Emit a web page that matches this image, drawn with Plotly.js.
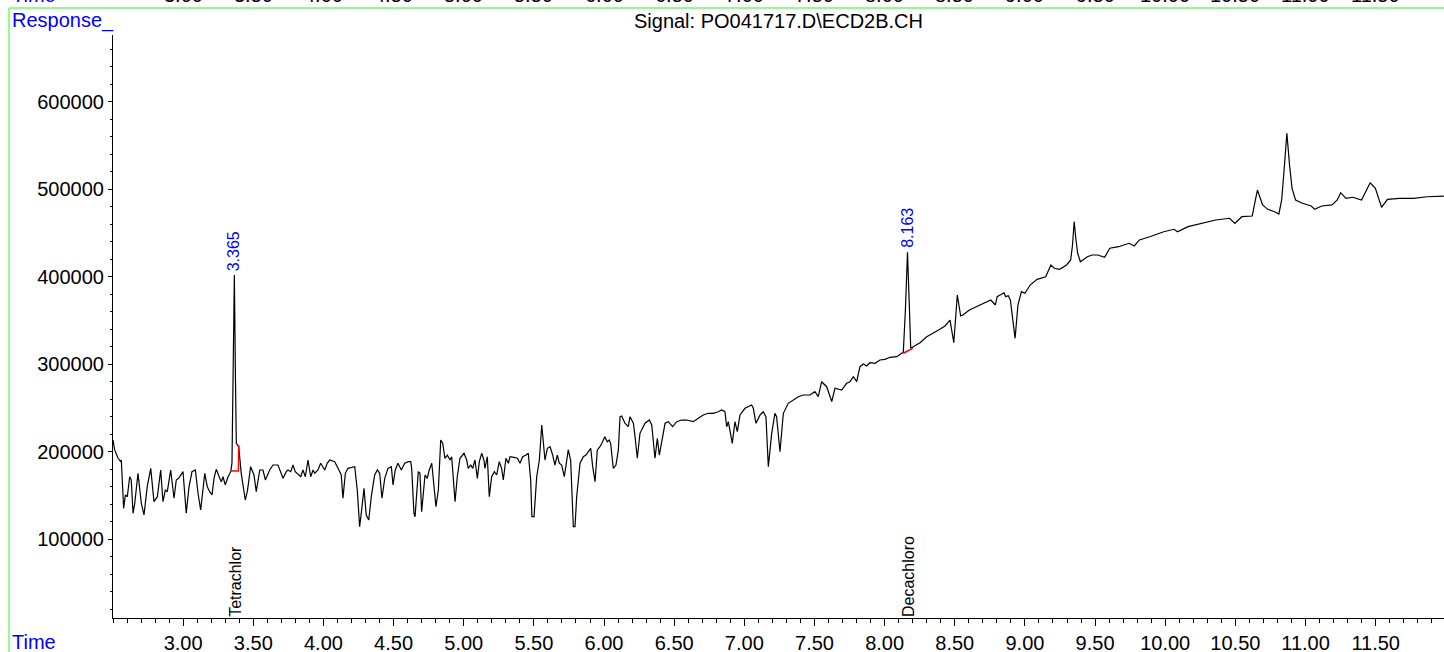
<!DOCTYPE html>
<html><head><meta charset="utf-8">
<script src="https://cdn.plot.ly/plotly-3.0.1.min.js"></script>
<style>html,body{margin:0;padding:0;background:#fff;overflow:hidden}#chart{width:1444px;height:652px}</style>
</head><body><div id="chart"></div>
<script>
// Retention time (min)
const time = [
2.500,2.512,2.536,2.555,2.559,2.576,2.588,2.602,2.619,2.630,
2.643,2.655,2.678,2.702,2.721,2.744,2.769,2.792,2.816,2.840,
2.856,2.873,2.887,2.911,2.935,2.951,2.968,2.987,2.999,3.022,
3.042,3.063,3.087,3.106,3.125,3.154,3.172,3.189,3.206,3.220,
3.236,3.261,3.272,3.284,3.300,3.320,3.339,3.348,3.357,3.365,
3.373,3.379,3.396,3.414,3.443,3.459,3.481,3.505,3.521,3.546,
3.569,3.586,3.617,3.640,3.676,3.695,3.712,3.735,3.747,3.767,
3.783,3.799,3.814,3.838,3.854,3.871,3.890,3.909,3.926,3.938,
3.961,3.980,4.009,4.027,4.045,4.080,4.104,4.127,4.139,4.156,
4.175,4.223,4.241,4.258,4.275,4.289,4.305,4.323,4.341,4.365,
4.384,4.401,4.417,4.437,4.460,4.484,4.496,4.512,4.531,4.555,
4.579,
4.605,4.622,4.629,4.645,4.653,4.676,4.688,4.700,4.724,4.740,
4.754,4.772,4.783,4.802,4.819,4.836,4.850,4.866,4.883,4.902,
4.914,4.926,4.938,4.954,4.973,5.002,5.021,5.032,5.050,5.064,
5.080,5.097,5.111,5.128,5.144,5.151,5.168,5.182,5.199,5.218,
5.235,5.253,5.270,5.282,5.301,5.318,5.330,5.358,5.382,5.401,
5.420,5.444,5.460,5.477,5.486,5.501,5.520,5.539,5.556,5.579,
5.596,5.615,5.634,5.650,5.667,5.681,5.698,5.717,5.734,5.745,
5.762,5.781,5.793,5.805,5.829,5.852,5.871,5.888,5.905,5.919,
5.936,5.952,5.971,5.990,6.005,6.023,6.037,6.047,6.066,6.085,
6.102,6.114,6.126,6.149,6.173,6.185,6.209,6.221,6.237,6.256,
6.292,6.323,6.340,6.363,6.380,6.394,6.411,6.435,6.458,6.489,
6.518,6.553,6.589,6.636,6.672,6.707,6.743,6.779,6.814,6.839,
6.862,6.874,6.886,6.898,6.914,6.933,6.950,6.969,7.005,7.052,
7.064,7.083,7.112,7.135,7.154,7.171,7.195,7.218,7.230,7.254,
7.278,7.313,7.349,7.385,7.420,7.468,7.503,7.527,7.551,7.587,
7.623,7.646,7.694,7.729,7.753,7.777,7.801,
7.824,7.848,7.872,7.895,7.931,7.967,8.002,8.038,8.086,8.121,
8.133,8.148,8.163,8.177,8.186,8.204,8.252,8.300,8.347,8.394,
8.430,8.466,
8.493,8.518,8.542,8.558,8.604,8.653,8.703,8.757,8.789,8.802,
8.851,8.863,8.881,8.896,8.930,8.950,8.975,9.000,9.037,9.087,
9.148,9.185,9.210,9.247,9.297,9.326,9.339,9.351,9.364,9.376,
9.395,9.445,9.478,9.519,9.568,9.605,9.668,9.742,9.779,9.816,
9.890,9.989,10.063,10.088,10.162,10.261,10.360,10.459,10.496,10.546,
10.620,10.657,10.694,10.731,10.780,10.810,10.830,10.850,10.867,10.886,
10.904,10.929,10.978,11.041,11.065,11.115,11.189,11.226,11.251,11.288,
11.337,11.399,11.461,11.498,11.542,11.584,11.670,11.769,11.868,11.986
];
// Detector response
const response = [
213500,202100,192600,188700,190600,135400,150600,148700,171500,167800,
129700,141100,175400,141100,127800,160100,181100,143000,148700,179200,
143000,156300,154400,179200,146900,167800,169700,175400,177300,129700,
160100,177300,179200,152600,133500,175400,160100,154400,150600,169700,
180000,169700,165800,171500,162100,171500,177300,186900,282100,402100,
282100,209700,205800,175400,144900,156300,183000,173500,154400,179200,
179200,167800,179200,184900,184900,177300,169700,177300,179200,177300,
184900,177300,175400,171500,179200,171500,190600,171500,179200,175400,
179200,186900,179200,186900,190600,188700,181100,173500,146900,175400,
181100,183000,156300,114400,137300,158300,127800,122100,148700,173500,
179200,175400,146900,169700,181100,183000,162100,179200,186900,179200,
186900,
188700,188700,181100,129700,125800,177300,175400,131500,173500,169700,
179200,186900,167800,137300,156300,213500,209700,192600,196300,190600,
194400,171500,143000,171500,192600,198300,190600,181100,184900,181100,
190600,169700,188700,198300,190600,181100,194400,148700,171500,177300,
173500,188700,181100,167800,192600,186900,194400,193700,192600,186900,
194400,196300,198300,167800,125800,125800,171500,190600,230600,190600,
204000,205800,196300,184900,196300,186900,184900,171500,190600,202100,
190600,114400,114400,148700,186900,194400,196300,200100,204000,183000,
165800,202100,205800,211500,217300,211500,213500,209700,181100,184900,
202100,240100,240900,232600,228700,240100,232600,217300,192600,221100,
232600,236300,230600,192600,215400,196300,211500,232600,234400,228700,
234400,236300,236300,234400,238300,242100,244000,244000,245800,247800,
245800,228700,234400,224900,209700,234400,223000,242100,249700,253500,
249700,232600,242100,245800,240100,183000,221100,244000,240100,200100,
244000,255400,259200,263000,264900,264900,268700,263000,280100,274400,
257300,272600,270600,278300,280100,285800,280100,
297300,300300,298100,301800,301100,304900,305700,308000,308700,312600,
313300,362100,428000,362100,318300,320100,324700,331500,335400,340000,
343800,350600,
324700,379200,355200,356300,362100,365800,369700,373500,367800,377300,
381800,377300,378400,373500,329700,367800,383000,381100,390600,397100,
400100,413500,409700,408600,413500,419200,436100,463000,442100,426900,
417300,423000,424900,424900,422300,432600,434400,438300,435200,442100,
445800,451500,454300,451500,457300,461100,464900,466900,461100,468700,
469500,499200,482100,477100,474400,471800,487800,527800,564000,527800,
501100,487800,484000,480900,477100,480900,482100,487800,496100,489700,
490900,487800,507500,501100,479400,488600,489700,489700,491500,492300
];
// Integrated peaks
const peakTimes = [3.365, 8.163];
const peakApex = [402100, 428000];
const peakLabels = ['3.365', '8.163'];
const compoundNames = ['Tetrachlor', 'Decachloro'];
// Integration baselines
const base1Time = [3.339, 3.394, 3.396];
const base1Resp = [178000, 178000, 207800];
const base2Time = [8.133, 8.200];
const base2Resp = [312600, 318300];
// Axes
const xTickVals = [3.0,3.5,4.0,4.5,5.0,5.5,6.0,6.5,7.0,7.5,8.0,8.5,9.0,9.5,10.0,10.5,11.0,11.5];
const xTickText = ['3.00','3.50','4.00','4.50','5.00','5.50','6.00','6.50','7.00','7.50','8.00','8.50','9.00','9.50','10.00','10.50','11.00','11.50'];
const yTickVals = [100000,200000,300000,400000,500000,600000];
const yTickText = ['100000','200000','300000','400000','500000','600000'];
const titleText = 'Signal: PO041717.D\\ECD2B.CH';

const FONT = 'Liberation Sans, Arial, sans-serif';
const L = 113, R = 1444, T = 35, B = 618, W = 1444, H = 652;
const px = v => (v - L) / (R - L);
const py = v => (B - v) / (B - T);
const GREEN = '#98F898';
const BLUE = '#0000FF';

const traces = [
  {x: time, y: response, type: 'scatter', mode: 'lines', line: {color: '#000', width: 1.2}, hoverinfo: 'skip'},
  {x: base1Time, y: base1Resp, type: 'scatter', mode: 'lines', line: {color: '#FF0000', width: 1.5}, hoverinfo: 'skip'},
  {x: base2Time, y: base2Resp, type: 'scatter', mode: 'lines', line: {color: '#FF0000', width: 1.5}, hoverinfo: 'skip'}
];

const annotations = [];
peakTimes.forEach((t, i) => {
  annotations.push({x: t, y: peakApex[i], xref: 'x', yref: 'y', text: peakLabels[i], showarrow: false,
    textangle: -90, xanchor: 'center', yanchor: 'bottom', yshift: 2, font: {family: FONT, size: 16, color: BLUE}});
  annotations.push({x: t, y: 0, xref: 'x', yref: 'paper', text: compoundNames[i], showarrow: false,
    textangle: -90, xanchor: 'center', yanchor: 'bottom', xshift: 1, yshift: -1, font: {family: FONT, size: 16, color: '#000'}});
});
annotations.push({x: px(10), y: py(20), xref: 'paper', yref: 'paper', text: 'Response_', showarrow: false,
  xanchor: 'left', yanchor: 'middle', font: {family: FONT, size: 20, color: BLUE}});
annotations.push({x: px(10), y: py(642), xref: 'paper', yref: 'paper', text: 'Time', showarrow: false,
  xanchor: 'left', yanchor: 'middle', font: {family: FONT, size: 20, color: BLUE}});
annotations.push({x: px(10), y: py(-5), xref: 'paper', yref: 'paper', text: 'Time', showarrow: false,
  xanchor: 'left', yanchor: 'middle', font: {family: FONT, size: 20, color: BLUE}});
xTickVals.forEach((v, i) => {
  annotations.push({x: v, y: py(-5), xref: 'x', yref: 'paper', text: xTickText[i], showarrow: false,
    xanchor: 'center', yanchor: 'middle', font: {family: FONT, size: 20, color: '#000'}});
});

const shapes = [
  {type: 'line', xref: 'paper', yref: 'paper', x0: px(9), x1: px(W), y0: py(8), y1: py(8), line: {color: GREEN, width: 2}},
  {type: 'line', xref: 'paper', yref: 'paper', x0: px(9), x1: px(9), y0: py(8), y1: py(H + 2), line: {color: GREEN, width: 2}}
];

const layout = {
  width: W, height: H,
  margin: {l: L, r: W - R, t: T, b: H - B, pad: 0},
  paper_bgcolor: '#fff', plot_bgcolor: '#fff',
  showlegend: false,
  font: {family: FONT, size: 20, color: '#000'},
  title: {text: titleText, x: 0.5, xref: 'paper', xanchor: 'center', y: 1 - 21 / H, yref: 'container', yanchor: 'middle',
    font: {family: FONT, size: 20, color: '#000'}},
  xaxis: {range: [2.5, 11.987], showline: true, linecolor: '#000', linewidth: 1, mirror: false,
    ticks: 'outside', ticklen: 7, tickwidth: 1, tickcolor: '#000',
    tickmode: 'array', tickvals: xTickVals, ticktext: xTickText,
    tickfont: {family: FONT, size: 20, color: '#000'},
    minor: {tickmode: 'linear', tick0: 0, dtick: 0.1, ticks: 'outside', ticklen: 4, tickwidth: 1, tickcolor: '#000', showgrid: false},
    showgrid: false, zeroline: false, fixedrange: true},
  yaxis: {range: [10057, 676343], showline: true, linecolor: '#000', linewidth: 1, mirror: false,
    ticks: 'outside', ticklen: 4, tickwidth: 1, tickcolor: '#000',
    tickmode: 'array', tickvals: yTickVals, ticktext: yTickText,
    tickfont: {family: FONT, size: 20, color: '#000'},
    minor: {tickmode: 'linear', tick0: 0, dtick: 20000, ticks: 'outside', ticklen: 2, tickwidth: 1, tickcolor: '#000', showgrid: false},
    showgrid: false, zeroline: false, fixedrange: true},
  annotations: annotations,
  shapes: shapes
};

Plotly.newPlot('chart', traces, layout, {displayModeBar: false, staticPlot: true});
</script></body></html>
